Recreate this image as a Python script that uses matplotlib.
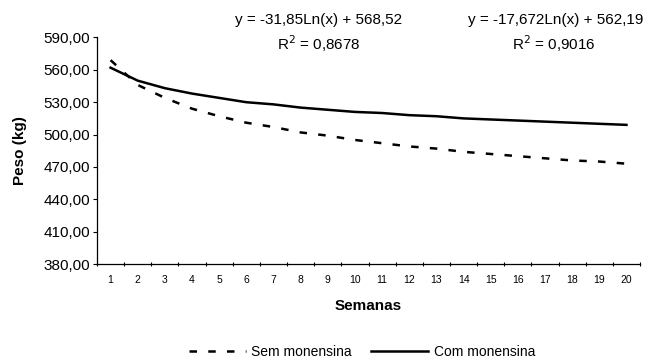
import matplotlib
matplotlib.use("Agg")
import matplotlib.pyplot as plt
from matplotlib.ticker import FixedLocator, FuncFormatter

plt.rcParams["font.family"] = ["Liberation Sans", "DejaVu Sans"]

semanas = list(range(1, 21))
sem_monensina = [569, 546, 534, 524, 517, 511, 507, 502, 499, 495,
                 492, 489, 487, 484, 482, 480, 478, 476, 475, 473]
com_monensina = [562, 550, 543, 538, 534, 530, 528, 525, 523, 521,
                 520, 518, 517, 515, 514, 513, 512, 511, 510, 509]
yticks = [380, 410, 440, 470, 500, 530, 560, 590]
eq_sem = ["y = -31,85Ln(x) + 568,52", "R$^2$ = 0,8678"]
eq_com = ["y = -17,672Ln(x) + 562,19", "R$^2$ = 0,9016"]

fig = plt.figure(figsize=(6.48, 3.63), dpi=100)
ax = fig.add_axes([0.1497, 0.2727, 0.838, 0.624])

ax.plot(semanas, sem_monensina, color="black", lw=1.8, dashes=(3.0, 4.5),
        label="Sem monensina")
ax.plot(semanas, com_monensina, color="black", lw=1.8, label="Com monensina")

ax.set_xlim(0.5, 20.5)
ax.set_ylim(380, 590)
ax.set_yticks(yticks)
ax.yaxis.set_major_formatter(FuncFormatter(lambda v, p: f"{v:.2f}".replace(".", ",")))
ax.tick_params(axis="y", labelsize=11, length=3, width=0.8, direction="out", pad=2)

# category axis: tick marks between weeks, labels centred on each week
ax.xaxis.set_major_locator(FixedLocator([i + 0.5 for i in range(0, 21)]))
ax.xaxis.set_major_formatter(FuncFormatter(lambda v, p: ""))
ax.xaxis.set_minor_locator(FixedLocator(semanas))
ax.xaxis.set_minor_formatter(FuncFormatter(lambda v, p: f"{int(round(v))}"))
ax.tick_params(axis="x", which="major", length=3, width=0.8, direction="inout")
ax.tick_params(axis="x", which="minor", length=0, labelsize=7.5, pad=8)

for s in ["top", "right"]:
    ax.spines[s].set_visible(False)
for s in ["left", "bottom"]:
    ax.spines[s].set_linewidth(0.9)

ax.set_xlabel("Semanas", fontsize=11, fontweight="bold", labelpad=10)
ax.set_ylabel("Peso (kg)", fontsize=11, fontweight="bold", labelpad=12)

fig.text(319 / 648, 1 - 20 / 363, eq_sem[0], ha="center", va="center", fontsize=11)
fig.text(319 / 648, 1 - 44 / 363, eq_sem[1], ha="center", va="center", fontsize=11)
fig.text(556 / 648, 1 - 20 / 363, eq_com[0], ha="center", va="center", fontsize=11)
fig.text(554 / 648, 1 - 44 / 363, eq_com[1], ha="center", va="center", fontsize=11)

fig.legend(loc="center", bbox_to_anchor=(362 / 648, 1 - 352 / 363), ncol=2,
           frameon=False, fontsize=10, handlelength=4.1, handletextpad=0.4,
           columnspacing=1.4)

fig.savefig("out.png", dpi=100)
